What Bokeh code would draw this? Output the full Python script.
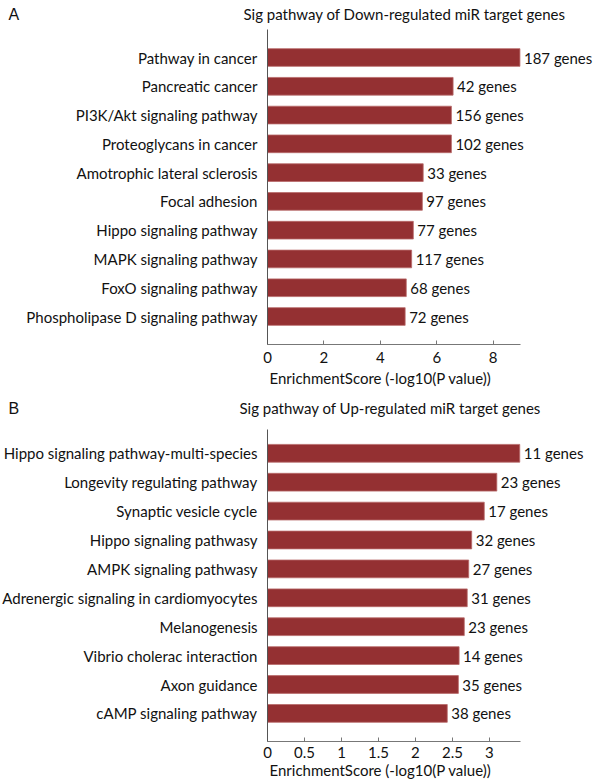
from bokeh.plotting import figure
from bokeh.layouts import column
from bokeh.models import Range1d, FixedTicker, Label, ColumnDataSource
from bokeh.embed import file_html
from bokeh.resources import INLINE
from bokeh.core.properties import value

# ---------------- data ----------------
down_pathways = ["Pathway in cancer", "Pancreatic cancer", "PI3K/Akt signaling pathway",
                 "Proteoglycans in cancer", "Amotrophic lateral sclerosis", "Focal adhesion",
                 "Hippo signaling pathway", "MAPK signaling pathway", "FoxO signaling pathway",
                 "Phospholipase D signaling pathway"]
down_scores = [8.95, 6.58, 6.52, 6.52, 5.52, 5.49, 5.17, 5.11, 4.92, 4.88]
down_genes = [187, 42, 156, 102, 33, 97, 77, 117, 68, 72]
down_ticks = [0, 2, 4, 6, 8]
down_tick_labels = ["0", "2", "4", "6", "8"]

up_pathways = ["Hippo signaling pathway-multi-species", "Longevity regulating pathway",
               "Synaptic vesicle cycle", "Hippo signaling pathwasy", "AMPK signaling pathwasy",
               "Adrenergic signaling in cardiomyocytes", "Melanogenesis",
               "Vibrio cholerac interaction", "Axon guidance", "cAMP signaling pathway"]
up_scores = [3.41, 3.10, 2.93, 2.76, 2.72, 2.70, 2.66, 2.59, 2.58, 2.43]
up_genes = [11, 23, 17, 32, 27, 31, 23, 14, 35, 38]
up_ticks = [0, 0.5, 1, 1.5, 2, 2.5, 3]
up_tick_labels = ["0", "0.5", "1", "1.5", "2", "2.5", "3"]

FONT = "Lato"
BAR = "#943032"
TXT = "#111111"
W = 594        # figure width
LEFT = 267     # x position (px) of the value axis origin
AXIS_W = 253   # drawn length of the value axis (px)


def panel(letter, title, cats, scores, genes, x_end, ticks, tick_labels, xlabel,
          H, first_c, spacing, ax_top, ax_bot, title_x, title_cy, letter_cy, xlabel_cy,
          tick_standoff):
    n = len(cats)
    src = ColumnDataSource(dict(pos=list(range(n)), cat=cats, score=scores,
                                label=[f"{g} genes" for g in genes]))
    ux = x_end / AXIS_W  # data units per pixel along x

    def yv(py):          # pixel row inside the figure -> category coordinate
        return (py - first_c) / spacing

    p = figure(width=W, height=H,
               x_range=Range1d(-LEFT * ux, (W - LEFT) * ux),
               y_range=Range1d(yv(H), yv(0)),
               min_border=0, output_backend="svg", toolbar_location=None)
    p.outline_line_color = None
    p.xgrid.grid_line_color = None
    p.ygrid.grid_line_color = None

    p.hbar(y="pos", left=0, right="score", height=0.615, source=src,
           fill_color=BAR, line_color="#b86a6a", line_width=0.8)
    p.text(x="score", y="pos", text="label", source=src, x_offset=4,
           text_baseline="middle", text_align="left", text_font=value(FONT),
           text_font_size="15px", text_color=TXT)

    yt, yb = yv(ax_top), yv(ax_bot)

    xa = p.xaxis[0]
    xa.fixed_location = yb
    xa.bounds = (0, x_end)
    xa.ticker = FixedTicker(ticks=ticks)
    xa.major_label_overrides = {t: l for t, l in zip(ticks, tick_labels)}
    xa.major_tick_in = 4
    xa.major_tick_out = 0
    xa.minor_tick_line_color = None
    xa.axis_line_color = "#777777"
    xa.major_tick_line_color = "#777777"
    xa.major_label_text_font = FONT
    xa.major_label_text_font_size = "15px"
    xa.major_label_text_color = TXT
    xa.major_label_standoff = tick_standoff

    ya = p.yaxis[0]
    ya.fixed_location = 0
    ya.bounds = (yt, yb)
    ya.ticker = FixedTicker(ticks=list(range(n)))
    ya.major_label_overrides = {i: c for i, c in enumerate(cats)}
    ya.axis_line_color = "#555555"
    ya.major_tick_line_color = None
    ya.minor_tick_line_color = None
    ya.major_label_text_font = FONT
    ya.major_label_text_font_size = "15px"
    ya.major_label_text_color = TXT
    ya.major_label_standoff = 4

    p.add_layout(Label(x=0, y=yv(xlabel_cy), x_offset=2, text=xlabel, text_font=FONT,
                       text_font_size="15px", text_baseline="middle", text_align="left",
                       text_color=TXT))
    p.add_layout(Label(x=title_x, y=H - title_cy, x_units="screen", y_units="screen",
                       text=title, text_font=FONT, text_font_size="15px",
                       text_baseline="middle", text_align="left", text_color=TXT))
    p.add_layout(Label(x=8, y=H - letter_cy, x_units="screen", y_units="screen",
                       text=letter, text_font="Liberation Sans", text_font_size="16px",
                       text_baseline="middle", text_align="left", text_color=TXT))
    return p


pa = panel("A", "Sig pathway of Down-regulated miR target genes", down_pathways, down_scores,
           down_genes, 8.97, down_ticks, down_tick_labels,
           "EnrichmentScore  (-log10(P value))",
           H=388, first_c=57, spacing=28.78, ax_top=29.1, ax_bot=344,
           title_x=243, title_cy=13, letter_cy=14, xlabel_cy=377, tick_standoff=7)
pb = panel("B", "Sig pathway of Up-regulated miR target genes", up_pathways, up_scores,
           up_genes, 3.42, up_ticks, up_tick_labels,
           "EnrichmentScore (-log10(P value))",
           H=395, first_c=64.8, spacing=28.9, ax_top=41.3, ax_bot=353,
           title_x=239, title_cy=19, letter_cy=20, xlabel_cy=381.3, tick_standoff=5)

layout = column(pa, pb, spacing=0)
open("out.html", "w").write(file_html(layout, INLINE))
